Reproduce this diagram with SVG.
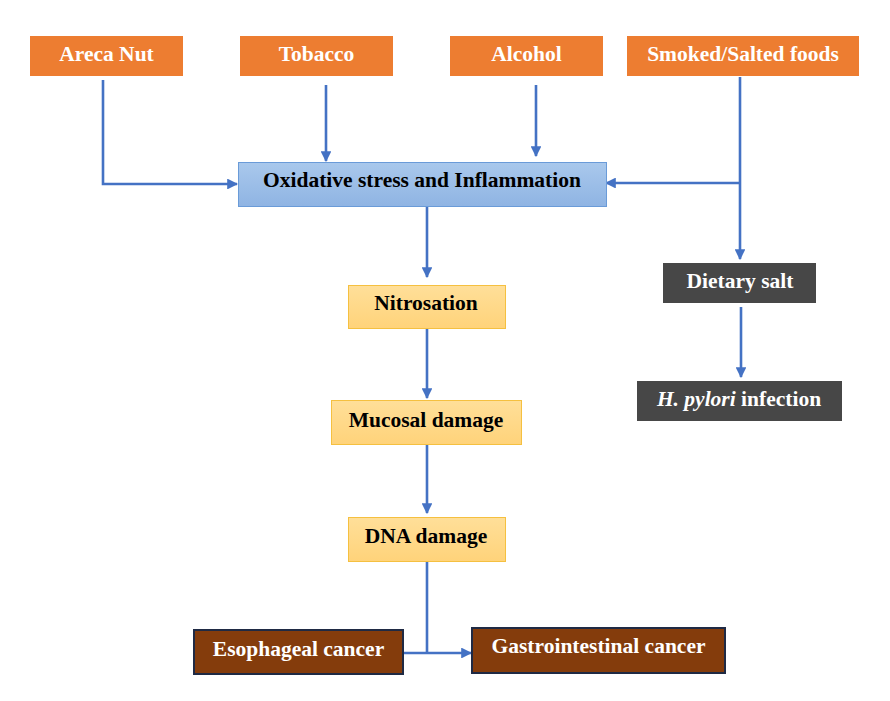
<svg xmlns="http://www.w3.org/2000/svg" width="890" height="701" viewBox="0 0 890 701">
<defs>
<linearGradient id="blueGrad" x1="0" y1="0" x2="0" y2="1">
<stop offset="0" stop-color="#A9C8EC"/>
<stop offset="1" stop-color="#8FB4E3"/>
</linearGradient>
<linearGradient id="yelGrad" x1="0" y1="0" x2="0" y2="1">
<stop offset="0" stop-color="#FFDF99"/>
<stop offset="1" stop-color="#FFD37A"/>
</linearGradient>
<marker id="arr" viewBox="0 0 10 10" refX="9" refY="5" markerWidth="4.2" markerHeight="4.2" orient="auto" markerUnits="strokeWidth">
<path d="M0,0 L10,5 L0,10 z" fill="#4472C4"/>
</marker>
</defs>
<style>
text{font-family:"Liberation Serif","Times New Roman",serif;font-weight:bold;font-size:21.5px;text-anchor:middle;dominant-baseline:central}
.orange rect{fill:#ED7D31}
.orange text,.gray text,.brown text{fill:#FFFFFF}
.blue rect{fill:url(#blueGrad);stroke:#6A9BD8;stroke-width:1}
.yellow rect{fill:url(#yelGrad);stroke:#F5C040;stroke-width:1}
.yellow text,.blue text{fill:#000000}
.gray rect{fill:#474747}
.brown rect{fill:#843C0C;stroke:#1F2A44;stroke-width:2}
#connectors path{fill:none;stroke:#4472C4;stroke-width:2.6}
</style>
<rect width="890" height="701" fill="#FFFFFF"/>
<g id="connectors">
<path d="M103,80 V184 H237" marker-end="url(#arr)"/>
<path d="M326,85 V161" marker-end="url(#arr)"/>
<path d="M536,85 V156" marker-end="url(#arr)"/>
<path d="M740,77 V259" marker-end="url(#arr)"/>
<path d="M740,183 H606" marker-end="url(#arr)"/>
<path d="M427,206 V277" marker-end="url(#arr)"/>
<path d="M427,328 V398" marker-end="url(#arr)"/>
<path d="M427,444 V513" marker-end="url(#arr)"/>
<path d="M427,561 V653"/>
<path d="M403,653 H471" marker-end="url(#arr)"/>
<path d="M741,307 V377" marker-end="url(#arr)"/>
</g>
<g id="areca" class="orange"><rect x="30" y="36" width="153" height="40"/><text x="106.5" y="54">Areca Nut</text></g>
<g id="tobacco" class="orange"><rect x="240" y="36" width="153" height="40"/><text x="316.5" y="54">Tobacco</text></g>
<g id="alcohol" class="orange"><rect x="450" y="36" width="153" height="40"/><text x="526.5" y="54">Alcohol</text></g>
<g id="smoked" class="orange"><rect x="627" y="36" width="232" height="40"/><text x="743" y="54">Smoked/Salted foods</text></g>
<g id="oxidative" class="blue"><rect x="238.5" y="162.5" width="368" height="44"/><text x="422" y="180">Oxidative stress and Inflammation</text></g>
<g id="nitrosation" class="yellow"><rect x="348.5" y="285.5" width="157" height="43"/><text x="426" y="303">Nitrosation</text></g>
<g id="mucosal" class="yellow"><rect x="331.5" y="400.5" width="190" height="44"/><text x="426" y="420">Mucosal damage</text></g>
<g id="dna" class="yellow"><rect x="348.5" y="517.5" width="157" height="44"/><text x="426" y="536">DNA damage</text></g>
<g id="dietary" class="gray"><rect x="663" y="263" width="153" height="40"/><text x="740" y="281">Dietary salt</text></g>
<g id="hpylori" class="gray"><rect x="637" y="381" width="205" height="40"/><text x="739" y="399"><tspan font-style="italic">H. pylori</tspan> infection</text></g>
<g id="esophageal" class="brown"><rect x="194" y="630" width="209" height="44"/><text x="298.5" y="649">Esophageal cancer</text></g>
<g id="gastro" class="brown"><rect x="472" y="628" width="253" height="45"/><text x="598.5" y="646">Gastrointestinal cancer</text></g>
</svg>
